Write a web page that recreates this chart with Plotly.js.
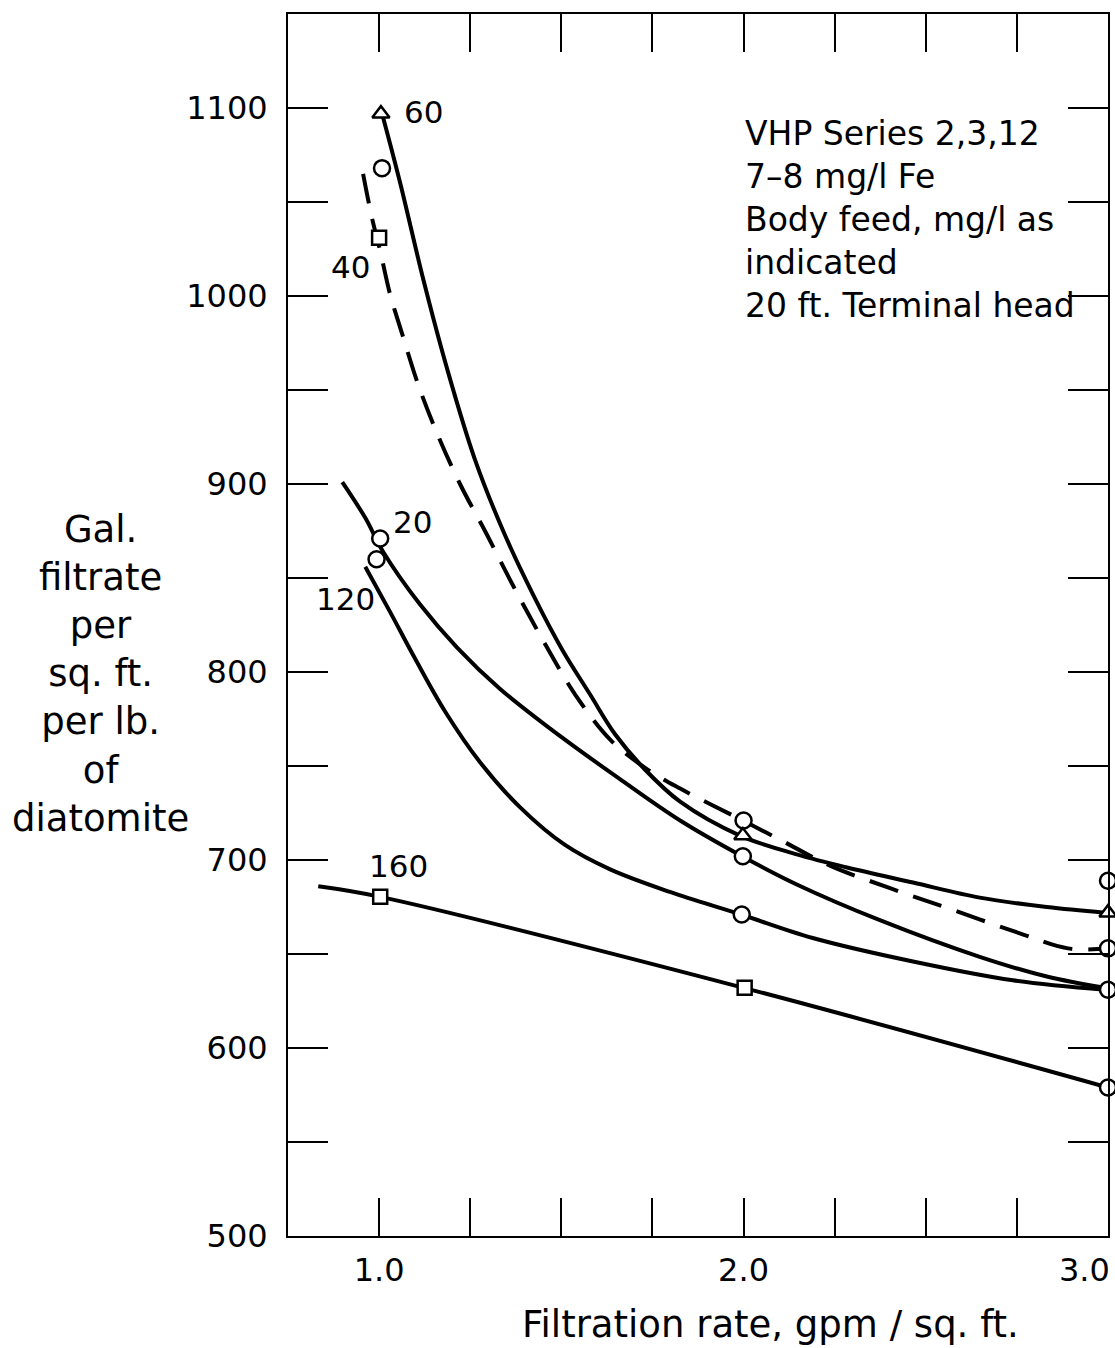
<!DOCTYPE html>
<html><head><meta charset="utf-8">
<script src="https://cdn.plot.ly/plotly-3.0.1.min.js"></script>
<style>html,body{margin:0;padding:0;background:#fff}</style>
</head><body>
<div id="chart" style="width:1115px;height:1348px"></div>
<script>
// ---- data ----
const feed60X  = [1.011, 1.058, 1.121, 1.187, 1.263, 1.345, 1.428, 1.502, 1.579, 1.647, 1.730, 1.826, 1.990, 2.146, 2.284, 2.465, 2.648, 2.832, 2.991];
const feed60Y  = [1095, 1060, 1009, 961, 913, 873, 839, 812, 788, 767, 748, 731, 713, 703, 696, 688, 680, 675, 672];

const feed40X  = [0.956, 0.981, 1.003, 1.030, 1.063, 1.107, 1.159, 1.222, 1.296, 1.373, 1.455, 1.538, 1.634, 1.730, 1.826, 1.998, 2.108, 2.237, 2.402, 2.566, 2.758, 2.890, 3.000];
const feed40Y  = [1065, 1041, 1024, 1001, 980, 953, 927, 900, 873, 844, 815, 788, 764, 749, 738, 721, 710, 697, 685, 674, 661, 653, 653];

const feed20X  = [0.899, 0.962, 1.011, 1.112, 1.214, 1.332, 1.496, 1.661, 1.826, 1.996, 2.146, 2.374, 2.648, 2.832, 2.991];
const feed20Y  = [901, 882, 864, 836, 813, 791, 766, 743, 721, 702, 687, 668, 648.5, 638, 632];

const feed120X = [0.962, 1.030, 1.099, 1.181, 1.277, 1.387, 1.510, 1.634, 1.798, 1.993, 2.190, 2.465, 2.739, 2.991];
const feed120Y = [856, 832, 807, 779, 752, 728, 708, 695, 683, 671, 658.5, 646, 636, 631];

const feed160X = [0.833, 1.000, 2.000, 3.000];
const feed160Y = [686, 680.5, 632, 579];

const circleX   = [1.008, 1.003, 0.993, 2.000, 1.998, 1.995, 3.000, 3.000, 3.000, 3.000];
const circleY   = [1068, 871, 860, 721, 702, 671, 689, 653, 631, 579];
const squareX   = [1.000, 1.003, 2.003];
const squareY   = [1031, 680.5, 632];
const triangleX = [1.005, 1.998, 3.000];
const triangleY = [1097, 713, 672];

const curveLabels = ['60', '40', '20', '120', '160'];

const xTickVals  = [1.0, 1.25, 1.5, 1.75, 2.0, 2.25, 2.5, 2.75, 3.0];
const xTickText  = ['1.0', '', '', '', '2.0', '', '', '', ''];
const xEndLabel  = '3.0';   // tick label at the right edge (drawn right-aligned to stay on the page)
const yTickVals  = [500, 550, 600, 650, 700, 750, 800, 850, 900, 950, 1000, 1050, 1100];
const yTickText  = ['500', '', '600', '', '700', '', '800', '', '900', '', '1000', '', '1100'];

const noteLines  = ['VHP Series 2,3,12', '7\u20138 mg/l Fe', 'Body feed, mg/l as', 'indicated', '20 ft. Terminal head'];
const yTitleLines = ['Gal.', 'filtrate', 'per', 'sq. ft.', 'per lb.', 'of', 'diatomite'];
const xTitle = 'Filtration rate, gpm / sq. ft.';

// ---- traces ----
const FONT = 'DejaVu Sans, Liberation Sans, sans-serif';
function curve(x, y, name, dash) {
  return {type: 'scatter', mode: 'lines', x: x, y: y, name: name,
    line: {color: '#000', width: 4, shape: 'spline', smoothing: 1, dash: dash || 'solid'},
    hoverinfo: 'skip', showlegend: false, cliponaxis: false};
}
function markers(x, y, symbol, size) {
  return {type: 'scatter', mode: 'markers', x: x, y: y,
    marker: {symbol: symbol, size: size, color: '#fff', line: {color: '#000', width: 2.5}},
    hoverinfo: 'skip', showlegend: false, cliponaxis: false};
}
const data = [
  curve(feed60X, feed60Y, '60'),
  curve(feed40X, feed40Y, '40', '30px,16px'),
  curve(feed20X, feed20Y, '20'),
  curve(feed120X, feed120Y, '120'),
  curve(feed160X, feed160Y, '160'),
  markers(circleX, circleY, 'circle', 16),
  markers(squareX, squareY, 'square', 14),
  markers(triangleX, triangleY, 'triangle-up', 15)
];

// labels attached to the first marker of each curve
const labelAnchors = [
  {x: triangleX[0], y: triangleY[0], dx: 43, dy: 2},
  {x: squareX[0], y: squareY[0], dx: -29, dy: -29},
  {x: circleX[1], y: circleY[1], dx: 32, dy: 17},
  {x: circleX[2], y: circleY[2], dx: -31, dy: -40},
  {x: squareX[1], y: squareY[1], dx: 18, dy: 31}
];
const annotations = curveLabels.map((t, i) => ({
  text: t, x: labelAnchors[i].x, y: labelAnchors[i].y, xref: 'x', yref: 'y',
  xshift: labelAnchors[i].dx, yshift: labelAnchors[i].dy, showarrow: false,
  font: {family: FONT, size: 31, color: '#000'}
}));
annotations.push({
  text: xEndLabel, xref: 'x', yref: 'paper', x: xTickVals[xTickVals.length - 1], y: -0.0278,
  xanchor: 'right', yanchor: 'middle', xshift: 4, showarrow: false,
  font: {family: FONT, size: 32, color: '#000'}
});
annotations.push({
  text: noteLines.join('<br>'), xref: 'paper', yref: 'paper', x: 0.555, y: 0.832,
  xanchor: 'left', yanchor: 'middle', align: 'left', showarrow: false,
  font: {family: FONT, size: 33, color: '#000'}
});
annotations.push({
  text: yTitleLines.join('<br>'), xref: 'paper', yref: 'paper', x: -0.229, y: 0.46,
  xanchor: 'center', yanchor: 'middle', align: 'center', showarrow: false,
  font: {family: FONT, size: 37, color: '#000'}
});
annotations.push({
  text: xTitle, xref: 'paper', yref: 'paper', x: 0.589, y: -0.0725,
  xanchor: 'center', yanchor: 'middle', showarrow: false,
  font: {family: FONT, size: 37, color: '#000'}
});

const axisCommon = {
  ticks: 'inside', tickwidth: 2, tickcolor: '#000', showline: true, linecolor: '#000',
  linewidth: 2, mirror: 'ticks', showgrid: false, zeroline: false,
  tickfont: {family: FONT, size: 32, color: '#000'}, tickmode: 'array'
};
const layout = {
  width: 1115, height: 1348,
  margin: {l: 288, r: 7, t: 14, b: 112},
  paper_bgcolor: '#fff', plot_bgcolor: '#fff',
  showlegend: false,
  xaxis: Object.assign({}, axisCommon, {range: [0.75, 3.0], tickvals: xTickVals, ticktext: xTickText, ticklen: 38, ticklabelstandoff: 5}),
  yaxis: Object.assign({}, axisCommon, {range: [500, 1150], tickvals: yTickVals, ticktext: yTickText, ticklen: 40, ticklabelstandoff: 12}),
  annotations: annotations
};
Plotly.newPlot('chart', data, layout, {displayModeBar: false, staticPlot: true});
</script></body></html>
